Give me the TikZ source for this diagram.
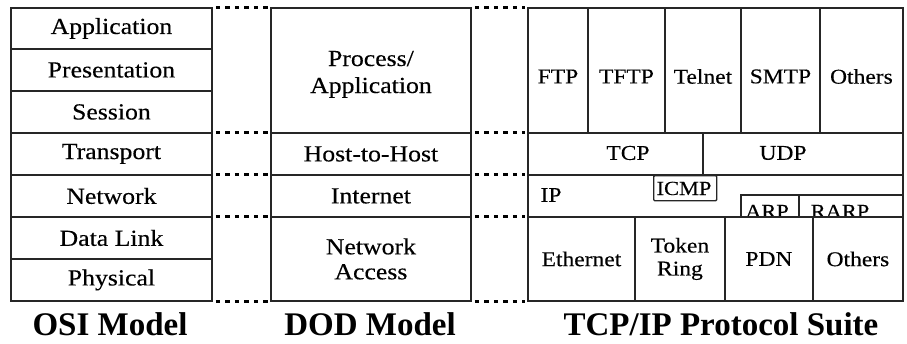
\documentclass[tikz,border=0pt]{standalone}
\usepackage{fontspec}
\setmainfont{Liberation Serif}[FakeStretch=1.12,FakeBold=0.3]
\newfontfamily\titlefont{Liberation Serif}
\newcommand\mycell[7][]{%
  \node[cell,#1,minimum width=#5pt-#3pt,minimum height=#6pt-#4pt] (#2) at (#3,#4) {#7};}
\begin{document}
\begin{tikzpicture}[x=1pt,y=-1pt,
  cell/.style={draw=black!85,line width=1.9pt,inner sep=0pt,anchor=north west,
    font=\fontsize{23}{25}\selectfont,align=center},
  small/.style={font=\fontsize{21}{23}\selectfont},
  txt/.style={inner sep=0pt,font=\fontsize{21}{23}\selectfont,align=center},
  dotline/.style={draw=black,line width=3pt,dash pattern=on 4.5pt off 5pt,
    shorten <=3pt,shorten >=2pt},
  title/.style={inner sep=0pt,anchor=base,font=\titlefont\bfseries\fontsize{33}{35}\selectfont}]
\useasboundingbox (0,0) rectangle (907,343);
% OSI model
\mycell{osi1}{10}{7}{211}{48}{Application}
\mycell{osi2}{10}{48}{211}{90}{Presentation}
\mycell{osi3}{10}{90}{211}{132}{Session}
\mycell{osi4}{10}{132}{211}{174}{Transport}
\mycell{osi5}{10}{174}{211}{216}{Network}
\mycell{osi6}{10}{216}{211}{258}{Data Link}
\mycell{osi7}{10}{258}{211}{300}{Physical}
% DOD model
\mycell{dod1}{270}{7}{470}{132}{\\[-2pt]Process/\\[2pt]Application}
\mycell{dod2}{270}{132}{470}{174}{Host-to-Host}
\mycell{dod3}{270}{174}{470}{216}{Internet}
\mycell{dod4}{270}{216}{470}{300}{Network\\Access}
% TCP/IP suite
\mycell[small]{ftp}{527}{7}{587}{132}{}
\mycell[small]{tftp}{587}{7}{664}{132}{}
\mycell[small]{telnet}{664}{7}{740}{132}{}
\mycell[small]{smtp}{740}{7}{819}{132}{}
\mycell[small]{oth1}{819}{7}{902}{132}{}
\node[txt] (ftpt) at ([yshift=-6pt]ftp.center) {FTP};
\node[txt] (tftpt) at ([yshift=-6pt]tftp.center) {TFTP};
\node[txt] (telnett) at ([yshift=-6pt]telnet.center) {Telnet};
\node[txt] (smtpt) at ([yshift=-6pt]smtp.center) {SMTP};
\node[txt] (oth1t) at ([yshift=-6pt]oth1.center) {Others};
\mycell{tcp}{527}{132}{702}{174}{}
\mycell{udp}{702}{132}{902}{174}{}
\node[txt] (tcpt) at (628,153) {TCP};
\node[txt] (udpt) at (783,153) {UDP};
\mycell{iprow}{527}{174}{902}{216}{}
\node[txt] (ipt) at (551,195) {IP};
\node[draw=black!85,line width=1.4pt,rounded corners=1pt,inner sep=0pt,
  minimum width=63pt,minimum height=25pt,anchor=north west] (icmp) at (653,175) {};
\node[txt,anchor=base,font=\fontsize{20}{22}\selectfont] (icmpt) at (684,195) {ICMP};
\begin{scope}
  \clip (740,194) rectangle (902,216);
  \node[txt,anchor=base,font=\fontsize{20}{22}\selectfont] (arpt) at (767,218) {ARP};
  \node[txt,anchor=base,font=\fontsize{20}{22}\selectfont] (rarpt) at (840,218) {RARP};
\end{scope}
\mycell{arp}{740}{194}{798}{216}{}
\mycell{rarp}{798}{194}{902}{216}{}
\mycell[small]{eth}{527}{216}{634}{300}{Ethernet}
\mycell[small]{token}{634}{216}{724}{300}{Token\\Ring}
\mycell[small]{pdn}{724}{216}{812}{300}{PDN}
\mycell[small]{oth2}{812}{216}{902}{300}{Others}
% dotted connectors
\draw[dotline] (osi1.north east) -- (dod1.north west);
\draw[dotline] (osi4.north east) -- (dod2.north west);
\draw[dotline] (osi5.north east) -- (dod3.north west);
\draw[dotline] (osi6.north east) -- (dod4.north west);
\draw[dotline] (osi7.south east) -- (dod4.south west);
\draw[dotline] (dod1.north east) -- (ftp.north west);
\draw[dotline] (dod2.north east) -- (tcp.north west);
\draw[dotline] (dod3.north east) -- (iprow.north west);
\draw[dotline] (dod4.north east) -- (eth.north west);
\draw[dotline] (dod4.south east) -- (eth.south west);
% titles
\node[title] (osit) at (110,335) {OSI Model};
\node[title] (dodt) at (370,335) {DOD Model};
\node[title] (tcpipt) at (721,335) {TCP/IP Protocol Suite};
\end{tikzpicture}
\end{document}
